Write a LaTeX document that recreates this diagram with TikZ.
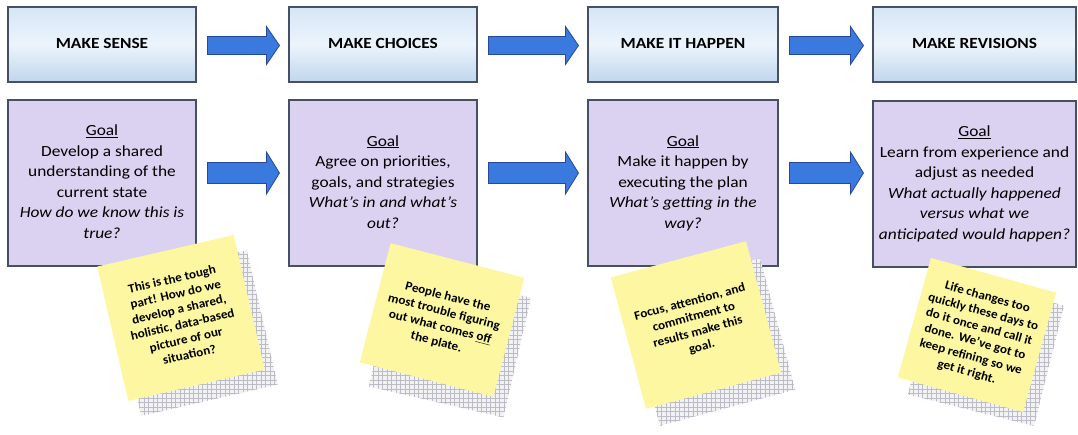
\documentclass[tikz,border=0pt]{standalone}
\usepackage{fontspec}
\setmainfont{Carlito}
\usepackage{graphicx}
\usetikzlibrary{calc,patterns}
\definecolor{boxedge}{RGB}{70,80,98}
\definecolor{topA}{RGB}{214,230,246}
\definecolor{topB}{RGB}{192,214,238}
\definecolor{topM}{RGB}{236,244,252}
\definecolor{goalfill}{RGB}{219,209,240}
\definecolor{arrowfill}{RGB}{58,122,222}
\definecolor{arrowedge}{RGB}{38,72,150}
\definecolor{notefill}{RGB}{252,247,160}
\definecolor{shadowgrid}{RGB}{188,188,198}
\definecolor{shadowfill}{RGB}{242,242,245}

\pgfdeclarepatternformonly{sgrid}{\pgfqpoint{-1pt}{-1pt}}{\pgfqpoint{4.5pt}{4.5pt}}{\pgfqpoint{4.5pt}{4.5pt}}{%
  \pgfsetlinewidth{0.5pt}%
  \pgfpathmoveto{\pgfqpoint{0pt}{-0.1pt}}\pgfpathlineto{\pgfqpoint{0pt}{4.6pt}}%
  \pgfpathmoveto{\pgfqpoint{-0.1pt}{0pt}}\pgfpathlineto{\pgfqpoint{4.6pt}{0pt}}%
  \pgfusepath{stroke}}

\newcommand\stretchtext[2][1.12]{\scalebox{#1}[1]{\begin{tabular}{@{}c@{}}#2\end{tabular}}}
\newcommand\blockarrow[4]{%
  \draw[arrowst] ($(#1)+(0,-#3)$) -- ($(#2)+(-13,-#3)$) -- ($(#2)+(-13,-#4)$) -- (#2)
    -- ($(#2)+(-13,#4)$) -- ($(#2)+(-13,#3)$) -- ($(#1)+(0,#3)$) -- cycle;}

\tikzset{
  topbox/.style={draw=boxedge, line width=1.1pt, top color=topA, bottom color=topB,
    middle color=topM, minimum width=#1, minimum height=75pt, inner sep=0pt,
    font=\fontsize{15.5}{18}\selectfont\bfseries},
  goalbox/.style={draw=boxedge, line width=1.1pt, fill=goalfill, minimum width=#1,
    minimum height=166pt, inner sep=0pt, font=\fontsize{15.5}{20.5}\selectfont},
  arrowst/.style={fill=arrowfill, draw=arrowedge, line width=0.8pt, line join=miter},
  notest/.style={fill=notefill, inner sep=0pt, font=\fontsize{12.5}{15.5}\selectfont\bfseries},
  shadowst/.style={preaction={fill=shadowfill}, pattern=sgrid, pattern color=shadowgrid, inner sep=0pt},
}

\begin{document}
\begin{tikzpicture}[x=1pt,y=-1pt]
\useasboundingbox (0,0) rectangle (1078,434);

% top row
\node[topbox=188pt] (t1) at (102,44.5) {\stretchtext{MAKE SENSE}};
\node[topbox=188pt] (t2) at (383,44.5) {\stretchtext{MAKE CHOICES}};
\node[topbox=190pt] (t3) at (683,44.5) {\stretchtext{MAKE IT HAPPEN}};
\node[topbox=203pt] (t4) at (974.5,44.5) {\stretchtext{MAKE REVISIONS}};

% goal row
\node[goalbox=188pt] (g1) at (102,183) {\stretchtext{\underline{Goal}\\Develop a shared\\understanding of the\\current state\\\itshape How do we know this is\\\itshape true?}};
\node[goalbox=188pt] (g2) at (383,183) {\stretchtext{\underline{Goal}\\Agree on priorities,\\goals, and strategies\\\itshape What’s in and what’s\\\itshape out?}};
\node[goalbox=190pt] (g3) at (683,183) {\stretchtext{\underline{Goal}\\Make it happen by\\executing the plan\\\itshape What’s getting in the\\\itshape way?}};
\node[goalbox=203pt] (g4) at (974.5,184) {\stretchtext{\underline{Goal}\\Learn from experience and\\adjust as needed\\\itshape What actually happened\\\itshape versus what we\\\itshape anticipated would happen?}};

% arrows top
\coordinate (a1s) at ($(t1.east)+(11,1)$); \coordinate (a1e) at ($(t2.west)+(-9,1)$);
\coordinate (a2s) at ($(t2.east)+(11,1)$); \coordinate (a2e) at ($(t3.west)+(-9,1)$);
\coordinate (a3s) at ($(t3.east)+(11,1)$); \coordinate (a3e) at ($(t4.west)+(-9,1)$);
\blockarrow{a1s}{a1e}{9}{19}
\blockarrow{a2s}{a2e}{9}{19}
\blockarrow{a3s}{a3e}{9}{19}

% arrows bottom
\coordinate (b1s) at ($(g1.east)+(11,-10)$); \coordinate (b1e) at ($(g2.west)+(-9,-10)$);
\coordinate (b2s) at ($(g2.east)+(11,-10)$); \coordinate (b2e) at ($(g3.west)+(-9,-10)$);
\coordinate (b3s) at ($(g3.east)+(11,-10)$); \coordinate (b3e) at ($(g4.west)+(-9,-11)$);
\blockarrow{b1s}{b1e}{10.5}{21}
\blockarrow{b2s}{b2e}{10.5}{21}
\blockarrow{b3s}{b3e}{10.5}{21}

% shadows
\node[shadowst, rotate=13, minimum width=140pt, minimum height=138pt] (s1) at (194,333) {};
\node[shadowst, rotate=-13, minimum width=138pt, minimum height=123pt] (s2) at (450,342) {};
\node[shadowst, rotate=15, minimum width=140pt, minimum height=136pt] (s3) at (710,342) {};
\node[shadowst, rotate=-14, minimum width=130pt, minimum height=124pt] (s4) at (986,350) {};

% sticky notes
\node[notest, rotate=13, minimum width=140pt, minimum height=138pt] (n1) at (181,318)
  {\stretchtext[1.05]{This is the tough\\part! How do we\\develop a shared,\\holistic, data-based\\picture of our\\situation?}};
\node[notest, rotate=-14.5, minimum width=138pt, minimum height=123pt] (n2) at (442,320)
  {\stretchtext[1.05]{People have the\\most trouble figuring\\out what comes \underline{off}\\the plate.}};
\node[notest, rotate=15, minimum width=140pt, minimum height=136pt] (n3) at (696,325)
  {\stretchtext[1.05]{Focus, attention, and\\commitment to\\results make this\\goal.}};
\node[notest, rotate=-15.5, minimum width=130pt, minimum height=124pt] (n4) at (977,335)
  {\stretchtext[1.05]{Life changes too\\quickly these days to\\do it once and call it\\done. We’ve got to\\keep refining so we\\get it right.}};
\end{tikzpicture}
\end{document}
